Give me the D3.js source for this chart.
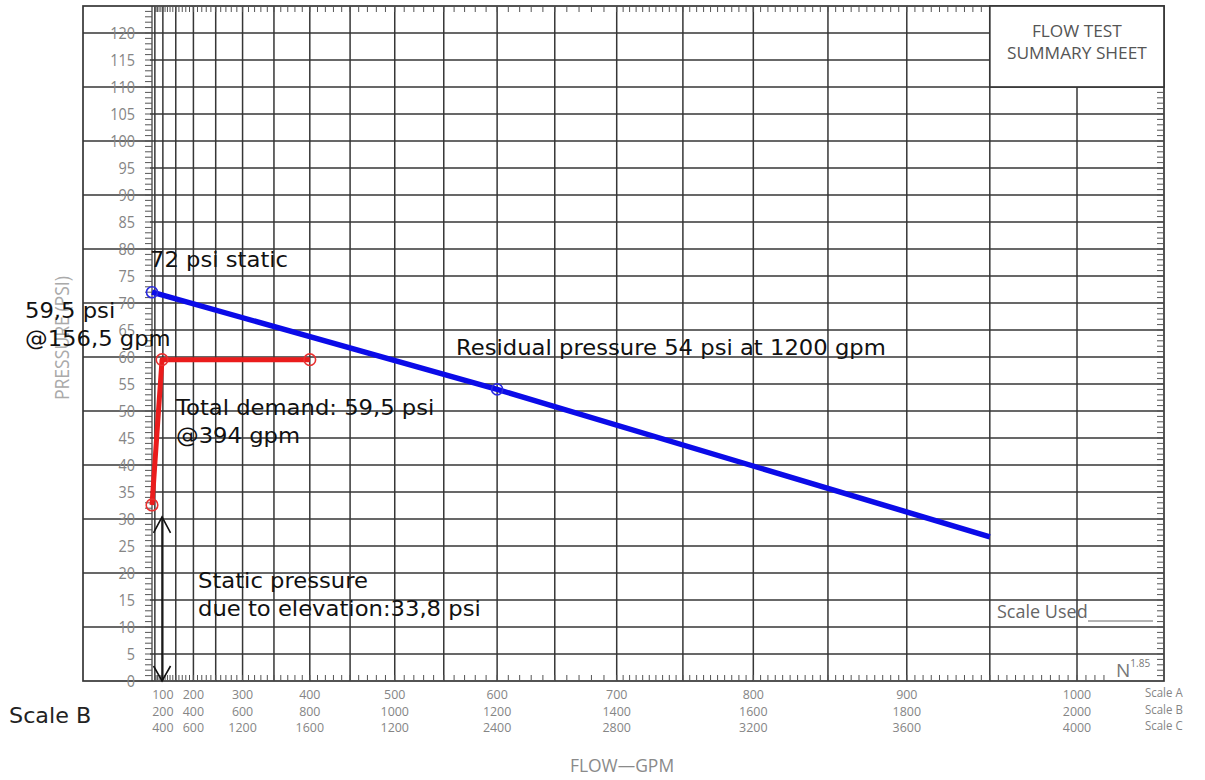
<!DOCTYPE html>
<html><head><meta charset="utf-8">
<script src="https://cdn.jsdelivr.net/npm/d3@7"></script>
<style>body{margin:0;background:#fff;overflow:hidden}</style>
</head><body>
<svg id="c" width="1205" height="780"></svg>
<script>
// ---------- data ----------
const psiLabels = [0,5,10,15,20,25,30,35,40,45,50,55,60,65,70,75,80,85,90,95,100,105,110,115,120];
const gridFlows = [50,100,150,200,250,300,350,400,450,500,550,600,650,700,750,800,850,900,950,1000];
const scaleA = [100,200,300,400,500,600,700,800,900,1000];
const scaleB = [200,400,600,800,1000,1200,1400,1600,1800,2000];
const scaleC = [400,600,1200,1600,1200,2400,2800,3200,3600,4000];
const scaleNames = ["Scale A","Scale B","Scale C"];
// supply curve (flow on scale A, pressure psi)
const supplyFlow = [0, 600, 950];
const supplyPsi  = [72, 54, 26.7];
const supplyMarked = [0, 1];
// demand curve
const demandFlow = [0, 96, 400];
const demandPsi  = [32.6, 59.5, 59.5];
// elevation arrow
const elevFlow = 96;
const elevPsi = [0, 30.4];
const notes = [
  ["72 psi static"],
  ["59,5 psi","@156,5 gpm"],
  ["Residual pressure 54 psi at 1200 gpm"],
  ["Total demand: 59,5 psi","@394 gpm"],
  ["Static pressure","due to elevation:33,8 psi"]
];

// ---------- layout ----------
const svg = d3.select("#c");
const x = d3.scalePow().exponent(1.93).domain([0,1000]).range([152,1077]);
const y = d3.scaleLinear().domain([0,120]).range([681,33]);
const F = {left:83, top:y(125), right:1164, bottom:y(0)};
const gridCol = "#363636", labCol = "#858585";

function stretch(sel,k){ sel.each(function(){ const l=this.getComputedTextLength(); this.setAttribute("textLength", l*k); this.setAttribute("lengthAdjust","spacingAndGlyphs"); }); }

svg.append("rect").attr("width",1205).attr("height",780).attr("fill","#fff");

const g = svg.append("g");
// horizontal grid
g.selectAll("line.h").data(psiLabels.filter(d=>d>0)).join("line")
  .attr("x1", d => d%10===0 ? F.left : x(0)-2).attr("x2", F.right)
  .attr("y1", d=>y(d)).attr("y2", d=>y(d))
  .attr("stroke", gridCol).attr("stroke-width",1.5);
// vertical grid
g.selectAll("line.v").data(gridFlows).join("line")
  .attr("x1", d=>x(d)).attr("x2", d=>x(d))
  .attr("y1", F.bottom).attr("y2", F.top)
  .attr("stroke", gridCol).attr("stroke-width",1.5);
// frame
g.append("rect").attr("x",F.left).attr("y",F.top).attr("width",F.right-F.left).attr("height",F.bottom-F.top)
  .attr("fill","none").attr("stroke",gridCol).attr("stroke-width",1.7);
// y axis line
g.append("line").attr("x1",x(0)).attr("x2",x(0)).attr("y1",F.bottom).attr("y2",F.top).attr("stroke",gridCol).attr("stroke-width",1.2);

// minor ticks y (left axis + right edge)
const psiMinor = d3.range(1,125,1);
g.selectAll("line.ym").data(psiMinor).join("line")
  .attr("x1", x(0)-7).attr("x2", x(0)).attr("y1", d=>y(d)).attr("y2", d=>y(d))
  .attr("stroke", "#555").attr("stroke-width",1);
g.selectAll("line.yr").data(psiMinor.filter(d=>d<110)).join("line")
  .attr("x1", F.right-7).attr("x2", F.right).attr("y1", d=>y(d)).attr("y2", d=>y(d))
  .attr("stroke", "#555").attr("stroke-width",1);
// minor ticks x
const flowMinor = d3.range(50,700,10).concat(d3.range(700,1016,5));
g.selectAll("line.xb").data(flowMinor).join("line")
  .attr("x1", d=>x(d)).attr("x2", d=>x(d)).attr("y1", F.bottom).attr("y2", F.bottom-6)
  .attr("stroke","#555").attr("stroke-width",1);
g.selectAll("line.xt").data(flowMinor.filter(d=>d<950)).join("line")
  .attr("x1", d=>x(d)).attr("x2", d=>x(d)).attr("y1", F.top).attr("y2", F.top+6)
  .attr("stroke","#555").attr("stroke-width",1);

// summary box
g.append("rect").attr("x",x(950)).attr("y",F.top).attr("width",F.right-x(950)).attr("height",y(110)-F.top)
  .attr("fill","#fff").attr("stroke",gridCol).attr("stroke-width",1.7);
const bx = (x(950)+F.right)/2;
const st = g.append("g").attr("font-family","Open Sans").attr("font-size",16).attr("fill","#555").attr("text-anchor","middle");
st.append("text").attr("x",bx).attr("y",37).text("FLOW TEST").call(stretch,1.08);
st.append("text").attr("x",bx).attr("y",59).text("SUMMARY SHEET").call(stretch,1.08);

// y tick labels
g.selectAll("text.yl").data(psiLabels).join("text")
  .attr("x",135).attr("y",d=>y(d)).attr("dy","0.36em").attr("text-anchor","end")
  .attr("font-family","Open Sans").attr("font-size",16).attr("fill",labCol)
  .text(d=>d).call(stretch,0.9);
// y axis title
g.append("text").attr("transform",`translate(69,${y(63.5)}) rotate(-90)`).attr("text-anchor","middle")
  .attr("font-family","Open Sans").attr("font-size",20).attr("fill","#aaa").text("PRESSURE (PSI)")
  .attr("textLength",124).attr("lengthAdjust","spacingAndGlyphs");

// x tick labels
const rows = [scaleA, scaleB, scaleC];
rows.forEach((row,ri)=>{
  g.selectAll("text.xr"+ri).data(row).join("text")
    .attr("x",(d,i)=>x(scaleA[i])).attr("y",699+ri*16.5).attr("text-anchor","middle")
    .attr("font-family","Open Sans").attr("font-size",13.5).attr("fill",labCol)
    .text(d=>d).call(stretch,0.92);
});
g.selectAll("text.sn").data(scaleNames).join("text")
  .attr("x",1145).attr("y",(d,i)=>697+i*16.5).attr("font-family","Open Sans").attr("font-size",13)
  .attr("fill",labCol).text(d=>d).call(stretch,0.88);
g.append("text").attr("x",622).attr("y",772).attr("text-anchor","middle").attr("font-family","Open Sans")
  .attr("font-size",18).attr("fill","#8a8a8a").text("FLOW—GPM").call(stretch,0.97);
// Scale Used
g.append("text").attr("x",997).attr("y",618).attr("font-family","Open Sans").attr("font-size",18)
  .attr("fill","#666").text("Scale Used").call(stretch,1.0);
g.append("line").attr("x1",1088).attr("x2",1153).attr("y1",621).attr("y2",621).attr("stroke","#666").attr("stroke-width",1);
// N^1.85
const nt = g.append("text").attr("x",1116).attr("y",677).attr("font-family","Open Sans").attr("fill","#777");
nt.append("tspan").attr("font-size",19).text("N");
nt.append("tspan").attr("font-size",10).attr("dy",-10).text("1.85");

// ---------- series ----------
const line = d3.line().x(d=>x(d[0])).y(d=>y(d[1]));
const supply = supplyFlow.map((f,i)=>[f,supplyPsi[i]]);
const demand = demandFlow.map((f,i)=>[f,demandPsi[i]]);
svg.append("path").attr("d",line(supply)).attr("fill","none").attr("stroke","#0b0be8").attr("stroke-width",5.5);
svg.selectAll("circle.s").data(supplyMarked.map(i=>supply[i])).join("circle")
  .attr("cx",d=>x(d[0])).attr("cy",d=>y(d[1])).attr("r",5.5)
  .attr("fill","none").attr("stroke","#2a2ae0").attr("stroke-width",1.6);
svg.append("path").attr("d",line(demand)).attr("fill","none").attr("stroke","#ea1c1c").attr("stroke-width",5).attr("stroke-linejoin","round");
svg.selectAll("circle.d").data(demand).join("circle")
  .attr("cx",d=>x(d[0])).attr("cy",d=>y(d[1])).attr("r",5.8)
  .attr("fill","none").attr("stroke","#e83030").attr("stroke-width",1.6);

// elevation arrow
const ax = x(elevFlow), aTop = y(elevPsi[1]), aBot = y(elevPsi[0]);
const ar = svg.append("g").attr("stroke","#111").attr("stroke-width",1.6).attr("fill","none");
ar.append("line").attr("x1",ax).attr("x2",ax).attr("y1",aTop).attr("y2",aBot);
ar.append("path").attr("d",`M${ax-8.5},${aTop+16}L${ax},${aTop}L${ax+8.5},${aTop+16}`);
ar.append("path").attr("d",`M${ax-8.5},${aBot-15}L${ax},${aBot}L${ax+8.5},${aBot-15}`);

// ---------- annotations ----------
const notePos = [[150,267],[25,318],[456,355],[176,415],[198,588]];
const an = svg.append("g").attr("font-family","DejaVu Sans").attr("font-size",21).attr("fill","#111");
notes.forEach((lines,i)=>{
  lines.forEach((t,j)=>{
    an.append("text").attr("x",notePos[i][0]).attr("y",notePos[i][1]+j*27.5).text(t).call(stretch,1.08);
  });
});
// Scale B label
svg.append("text").attr("x",9).attr("y",723).attr("font-family","DejaVu Sans").attr("font-size",21)
  .attr("fill","#222").text("Scale B").call(stretch,1.06);
</script>
</body></html>
